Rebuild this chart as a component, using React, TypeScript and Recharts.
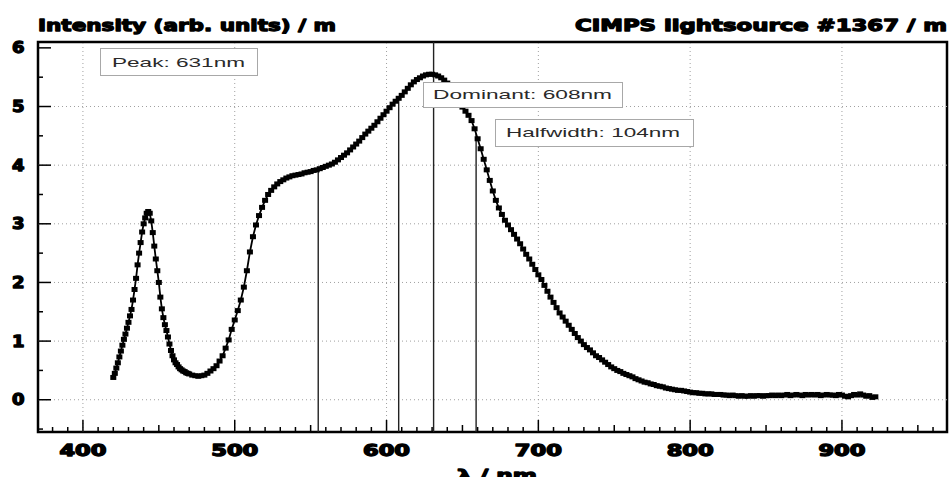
import React from 'react';
import { LineChart, Line, XAxis, YAxis, ReferenceLine, ReferenceArea } from 'recharts';

// Spectrum: [wavelength nm, intensity]
const blueBand: [number, number][] = [
  [420, 0.38], [421, 0.45], [422, 0.54], [423, 0.63], [424, 0.73], [425, 0.83], [426, 0.93], [427, 1.03],
  [428, 1.12], [429, 1.22], [430, 1.32], [431, 1.43], [432, 1.54], [433, 1.70], [434, 1.88], [435, 2.07],
  [436, 2.30], [437, 2.50], [438, 2.68], [439, 2.86], [440, 3.00], [441, 3.10], [442, 3.18], [443, 3.21],
  [444, 3.18], [445, 3.05], [446, 2.85], [447, 2.62], [448, 2.40], [449, 2.20], [450, 2.00], [451, 1.75],
  [452, 1.55], [453, 1.40], [454, 1.28], [455, 1.18], [456, 1.07], [457, 0.95], [458, 0.84], [459, 0.75],
  [460, 0.68], [461, 0.63], [462, 0.60], [463, 0.56], [464, 0.53], [465, 0.51], [466, 0.49], [467, 0.48],
  [468, 0.46], [469, 0.45], [470, 0.44],
];

const valley: [number, number][] = [
  [472, 0.42], [474, 0.41], [476, 0.40], [478, 0.41], [480, 0.42], [482, 0.45], [484, 0.49], [486, 0.53],
  [488, 0.58], [490, 0.66], [492, 0.75], [494, 0.88], [496, 1.02], [498, 1.20], [500, 1.36], [502, 1.52],
  [504, 1.70], [506, 1.92], [508, 2.20], [510, 2.52], [512, 2.78], [514, 2.98], [516, 3.14], [518, 3.28],
  [520, 3.40],
];

const mainBand: [number, number][] = [
  [522, 3.50], [524, 3.57], [526, 3.63], [528, 3.68], [530, 3.72], [532, 3.75], [534, 3.78], [536, 3.80],
  [538, 3.82], [540, 3.83], [542, 3.84], [544, 3.85], [546, 3.87], [548, 3.88], [550, 3.89], [552, 3.91],
  [554, 3.92], [556, 3.94], [558, 3.96], [560, 3.98], [562, 4.00], [564, 4.02], [566, 4.05], [568, 4.09],
  [570, 4.13], [572, 4.17], [574, 4.21], [576, 4.26], [578, 4.31], [580, 4.36], [582, 4.41], [584, 4.47],
  [586, 4.53], [588, 4.58], [590, 4.63], [592, 4.68], [594, 4.74], [596, 4.80], [598, 4.86], [600, 4.92],
  [602, 4.98], [604, 5.04], [606, 5.09], [608, 5.14], [610, 5.19], [612, 5.25], [614, 5.31], [616, 5.37],
  [618, 5.42], [620, 5.46], [622, 5.49], [624, 5.52], [626, 5.54], [628, 5.55], [630, 5.55], [632, 5.54],
  [634, 5.52], [636, 5.49], [638, 5.45], [640, 5.40], [642, 5.33], [644, 5.25], [646, 5.17], [648, 5.08],
  [650, 4.99], [652, 4.92], [654, 4.85], [656, 4.76], [658, 4.62], [660, 4.45],
];

const decline: [number, number][] = [
  [662, 4.28], [664, 4.10], [666, 3.92], [668, 3.74], [670, 3.56], [672, 3.40], [674, 3.27], [676, 3.16],
  [678, 3.06], [680, 2.98], [682, 2.90], [684, 2.82], [686, 2.74], [688, 2.66], [690, 2.57], [692, 2.48],
  [694, 2.40], [696, 2.31], [698, 2.22], [700, 2.13], [702, 2.05], [704, 1.95], [706, 1.85], [708, 1.75],
  [710, 1.66], [712, 1.57], [714, 1.48], [716, 1.41], [718, 1.34], [720, 1.27], [722, 1.20], [724, 1.13],
  [726, 1.06], [728, 1.00], [730, 0.94], [732, 0.89], [734, 0.85], [736, 0.80], [738, 0.75], [740, 0.72],
  [742, 0.68], [744, 0.64], [746, 0.60], [748, 0.56], [750, 0.53], [752, 0.50], [754, 0.48], [756, 0.45],
  [758, 0.43], [760, 0.41], [762, 0.39], [764, 0.36], [766, 0.34], [768, 0.32], [770, 0.30], [772, 0.29],
  [774, 0.27], [776, 0.26], [778, 0.24], [780, 0.23], [782, 0.22], [784, 0.20], [786, 0.19], [788, 0.18],
  [790, 0.17], [792, 0.16], [794, 0.16], [796, 0.15], [798, 0.14], [800, 0.13],
];

const tail: [number, number][] = [
  [802, 0.12], [804, 0.12], [806, 0.11], [808, 0.11], [810, 0.10], [812, 0.10], [814, 0.10], [816, 0.09],
  [818, 0.09], [820, 0.09], [822, 0.08], [824, 0.08], [826, 0.07], [828, 0.08], [830, 0.07], [832, 0.06],
  [834, 0.07], [836, 0.06], [838, 0.06], [840, 0.07], [842, 0.06], [844, 0.07], [846, 0.07], [848, 0.06],
  [850, 0.07], [852, 0.07], [854, 0.08], [856, 0.07], [858, 0.08], [860, 0.07], [862, 0.08], [864, 0.09],
  [866, 0.07], [868, 0.08], [870, 0.09], [872, 0.08], [874, 0.07], [876, 0.09], [878, 0.08], [880, 0.09],
  [882, 0.08], [884, 0.09], [886, 0.07], [888, 0.08], [890, 0.09], [892, 0.08], [894, 0.08], [896, 0.07],
  [898, 0.09], [900, 0.08], [902, 0.06], [904, 0.05], [906, 0.07], [908, 0.09], [910, 0.08], [912, 0.10],
  [914, 0.08], [916, 0.06], [918, 0.07], [920, 0.04], [922, 0.05],
];

const xMajorTicks = [400, 500, 600, 700, 800, 900];
const xAllTicks = [
  380, 390, 400, 410, 420, 430, 440, 450, 460, 470, 480, 490, 500, 510, 520, 530, 540, 550, 560, 570,
  580, 590, 600, 610, 620, 630, 640, 650, 660, 670, 680, 690, 700, 710, 720, 730, 740, 750, 760, 770,
  780, 790, 800, 810, 820, 830, 840, 850, 860, 870, 880, 890, 900, 910, 920, 930, 940, 950, 960,
];
const yAllTicks = [-0.5, 0, 0.5, 1, 1.5, 2, 2.5, 3, 3.5, 4, 4.5, 5, 5.5, 6];
const yGridValues = [0, 1, 2, 3, 4, 5];

// Marker wavelengths (nm) and the intensity where each line meets the curve
const halfLeftNm = 555;
const halfLeftTop = 3.93;
const dominantNm = 608;
const dominantTop = 5.14;
const peakNm = 631;
const halfRightNm = 659;
const halfRightTop = 4.54;

const titleLeft = 'Intensity (arb. units) / m';
const titleRight = 'CIMPS lightsource  #1367 / m';
const xTitle = 'λ / nm';
const peakLabel = 'Peak: 631nm';
const dominantLabel = 'Dominant: 608nm';
const halfwidthLabel = 'Halfwidth: 104nm';

const X_MIN = 370.4;
const X_MAX = 969.2;
const Y_MIN = -0.55;
const Y_MAX = 6.1;

const spectrum = [...blueBand, ...valley, ...mainBand, ...decline, ...tail].map(([nm, v]) => ({ nm, v }));

const heavy = {
  fontFamily: '"DejaVu Sans", sans-serif',
  fontWeight: 700 as const,
  fill: '#000',
  stroke: '#000',
  strokeWidth: 1.3,
  strokeLinejoin: 'round' as const,
};

const XTick = (props: any) => {
  const { x, y, payload } = props;
  const v = payload.value as number;
  const major = xMajorTicks.includes(v);
  const len = major ? 12 : v % 50 === 0 ? 7 : 5;
  return (
    <g>
      <line x1={x} x2={x} y1={y} y2={y - len} stroke="#000" strokeWidth={1.5} />
      {major && (
        <text x={x} y={y + 24} textAnchor="middle" fontSize={15} textLength={47} lengthAdjust="spacingAndGlyphs" {...heavy}>
          {v}
        </text>
      )}
    </g>
  );
};

const YTick = (props: any) => {
  const { x, y, payload } = props;
  const v = payload.value as number;
  const major = Number.isInteger(v);
  const len = major ? 13 : 5;
  return (
    <g>
      <line x1={x} x2={x + len} y1={y} y2={y} stroke="#000" strokeWidth={1.5} />
      {major && (
        <text x={x - 13.5} y={y + 5.5} textAnchor="end" fontSize={15} textLength={12.5} lengthAdjust="spacingAndGlyphs" {...heavy}>
          {v}
        </text>
      )}
    </g>
  );
};

const Marker = (props: any) => {
  const { cx, cy, index } = props;
  if (cx == null || cy == null) return <g key={`m${index}`} />;
  return <rect key={`m${index}`} x={cx - 3} y={cy - 2.5} width={6} height={5} fill="#000" />;
};

const boxText = {
  fontFamily: '"Liberation Sans", Arial, sans-serif',
  fontSize: 13.5,
  fill: '#2a2a2a',
};

export default function App() {
  return (
    <div style={{ position: 'absolute', left: 0, top: 0, width: 952, height: 477, background: '#fff', overflow: 'hidden' }}>
      <LineChart width={952} height={477} data={spectrum} margin={{ top: 42, right: 5, bottom: 0, left: 0 }}>
        <XAxis
          dataKey="nm"
          type="number"
          domain={[X_MIN, X_MAX]}
          allowDataOverflow
          ticks={xAllTicks}
          interval={0}
          tick={<XTick />}
          tickSize={0}
          tickMargin={0}
          axisLine={false}
          height={45}
        />
        <YAxis
          type="number"
          domain={[Y_MIN, Y_MAX]}
          allowDataOverflow
          ticks={yAllTicks}
          interval={0}
          tick={<YTick />}
          tickSize={0}
          tickMargin={0}
          axisLine={false}
          width={38}
        />
        {xMajorTicks.map((v) => (
          <ReferenceLine key={`gx${v}`} x={v} stroke="#a0a0a0" strokeWidth={1} strokeDasharray="1 3" />
        ))}
        {yGridValues.map((v) => (
          <ReferenceLine key={`gy${v}`} y={v} stroke="#a0a0a0" strokeWidth={1} strokeDasharray="1 3" />
        ))}
        <ReferenceLine segment={[{ x: halfLeftNm, y: Y_MIN }, { x: halfLeftNm, y: halfLeftTop }]} stroke="#222" strokeWidth={1.4} />
        <ReferenceLine segment={[{ x: dominantNm, y: Y_MIN }, { x: dominantNm, y: dominantTop }]} stroke="#222" strokeWidth={1.4} />
        <ReferenceLine x={peakNm} stroke="#222" strokeWidth={1.4} />
        <ReferenceLine segment={[{ x: halfRightNm, y: Y_MIN }, { x: halfRightNm, y: halfRightTop }]} stroke="#222" strokeWidth={1.4} />
        <Line
          dataKey="v"
          type="linear"
          stroke="#000"
          strokeWidth={1.8}
          dot={Marker}
          activeDot={false}
          isAnimationActive={false}
        />
        <ReferenceArea x1={X_MIN} x2={X_MAX} y1={Y_MIN} y2={Y_MAX} fill="none" fillOpacity={0} stroke="#000" strokeWidth={2.5} />
      </LineChart>
      <svg width={952} height={477} style={{ position: 'absolute', left: 0, top: 0, pointerEvents: 'none' }}>
        <text x={38} y={31} fontSize={16.5} textLength={298} lengthAdjust="spacingAndGlyphs" {...heavy}>
          {titleLeft}
        </text>
        <text x={947} y={31} textAnchor="end" fontSize={16.5} textLength={372} lengthAdjust="spacingAndGlyphs" {...heavy}>
          {titleRight}
        </text>
        <text x={457} y={481} fontSize={16.5} textLength={80} lengthAdjust="spacingAndGlyphs" {...heavy}>
          {xTitle}
        </text>
        <rect x={100.5} y={48.5} width={157} height={27} fill="#fff" stroke="#a8a8a8" strokeWidth={1} />
        <text x={112} y={67} textLength={133} lengthAdjust="spacingAndGlyphs" {...boxText}>{peakLabel}</text>
        <rect x={423.5} y={82.5} width={199} height={25} fill="#fff" stroke="#a8a8a8" strokeWidth={1} />
        <text x={433} y={99} textLength={179} lengthAdjust="spacingAndGlyphs" {...boxText}>{dominantLabel}</text>
        <rect x={495.5} y={119.5} width={198} height={27} fill="#fff" stroke="#a8a8a8" strokeWidth={1} />
        <text x={506} y={137} textLength={174} lengthAdjust="spacingAndGlyphs" {...boxText}>{halfwidthLabel}</text>
      </svg>
    </div>
  );
}
